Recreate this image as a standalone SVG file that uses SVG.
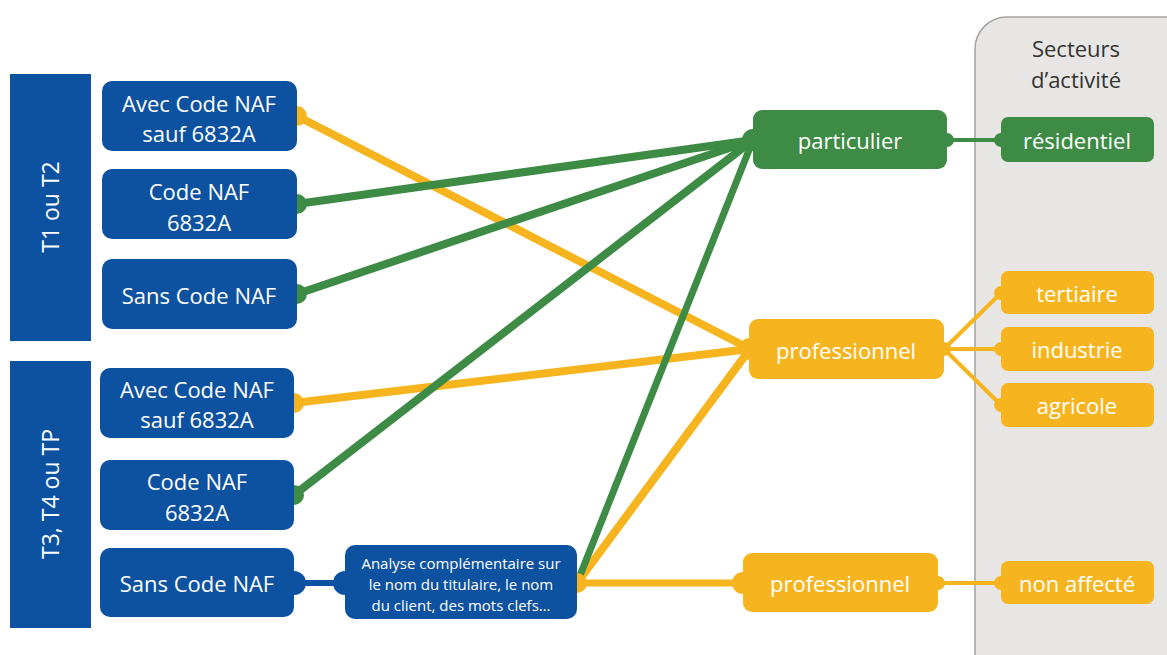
<svg xmlns="http://www.w3.org/2000/svg" width="1167" height="655" viewBox="0 0 1167 655">
<style>
.blue{fill:#0D52A0}
.green{fill:#3E8B46}
.yellow{fill:#F6B51E}
.t{font-family:"Open Sans","Liberation Sans",sans-serif;fill:#fff;text-anchor:middle;dominant-baseline:central}
.big{font-size:22px}
.bar{font-size:23px}
.sm{font-size:15px}
.lg{stroke:#3E8B46;stroke-linecap:round;fill:none}
.ly{stroke:#F6B51E;stroke-linecap:round;fill:none}
.lb{stroke:#0D52A0;fill:none}
</style>
<rect x="0" y="0" width="1167" height="655" fill="#fff"/>
<g id="panel">
<rect x="975" y="17" width="230" height="680" rx="32" fill="#E8E6E5" stroke="#A3A3A3" stroke-width="1.5"/>
<text x="1076" y="48" font-family="'Open Sans','Liberation Sans',sans-serif" font-size="22" fill="#333" text-anchor="middle" dominant-baseline="central">Secteurs</text>
<text x="1076" y="79" font-family="'Open Sans','Liberation Sans',sans-serif" font-size="22" fill="#333" text-anchor="middle" dominant-baseline="central">d’activité</text>
</g>
<g id="connectors">
<line class="ly" x1="297" y1="116" x2="750" y2="349" stroke-width="8"/>
<line class="ly" x1="294" y1="403" x2="750" y2="349" stroke-width="8"/>
<line class="ly" x1="577" y1="583" x2="750" y2="349" stroke-width="8"/>
<line class="ly" x1="577" y1="583" x2="743" y2="583" stroke-width="7"/>
<line class="lg" x1="297" y1="204" x2="753" y2="140" stroke-width="8"/>
<line class="lg" x1="297" y1="294" x2="753" y2="140" stroke-width="8"/>
<line class="lg" x1="294" y1="495" x2="753" y2="140" stroke-width="8"/>
<line class="lg" x1="577" y1="583" x2="753" y2="140" stroke-width="7"/>
<line class="lb" x1="294" y1="583" x2="345" y2="583" stroke-width="6"/>
<line class="lg" x1="947" y1="140" x2="1001" y2="140" stroke-width="4"/>
<line class="ly" x1="944" y1="349" x2="1001" y2="293" stroke-width="4"/>
<line class="ly" x1="944" y1="349" x2="1001" y2="349" stroke-width="4"/>
<line class="ly" x1="944" y1="349" x2="1001" y2="405" stroke-width="4"/>
<line class="ly" x1="938" y1="583" x2="1001" y2="583" stroke-width="4"/>
<circle class="yellow" cx="297" cy="116" r="10"/>
<circle class="green" cx="297" cy="204" r="10"/>
<circle class="green" cx="297" cy="294" r="10"/>
<circle class="yellow" cx="294" cy="403" r="10"/>
<circle class="green" cx="294" cy="495" r="10"/>
<circle class="blue" cx="294" cy="583" r="12"/>
<circle class="blue" cx="345" cy="583" r="12"/>
<circle class="yellow" cx="577" cy="583" r="10"/>
<circle class="green" cx="753" cy="140" r="11"/>
<circle class="green" cx="947" cy="140" r="7"/>
<circle class="yellow" cx="750" cy="349" r="11"/>
<circle class="yellow" cx="944" cy="349" r="7"/>
<circle class="yellow" cx="743" cy="583" r="11"/>
<circle class="yellow" cx="938" cy="583" r="7"/>
<circle class="green" cx="1001" cy="140" r="7"/>
<circle class="yellow" cx="1001" cy="293" r="7"/>
<circle class="yellow" cx="1001" cy="349" r="7"/>
<circle class="yellow" cx="1001" cy="405" r="7"/>
<circle class="yellow" cx="1001" cy="583" r="7"/>
</g>
<g id="bar1"><rect class="blue" x="10" y="74" width="81" height="267"/><text class="t bar" transform="translate(50 207) rotate(-90)">T1 ou T2</text></g>
<g id="bar2"><rect class="blue" x="10" y="361" width="81" height="267"/><text class="t bar" transform="translate(50 494) rotate(-90)">T3, T4 ou TP</text></g>
<g id="n1"><rect class="blue" x="102" y="81" width="195" height="70" rx="10"/><text class="t big" x="199" y="103">Avec Code NAF</text><text class="t big" x="199" y="133">sauf 6832A</text></g>
<g id="n2"><rect class="blue" x="102" y="169" width="195" height="70" rx="10"/><text class="t big" x="199" y="191">Code NAF</text><text class="t big" x="199" y="222">6832A</text></g>
<g id="n3"><rect class="blue" x="102" y="259" width="195" height="70" rx="10"/><text class="t big" x="199" y="295">Sans Code NAF</text></g>
<g id="n4"><rect class="blue" x="100" y="368" width="194" height="70" rx="10"/><text class="t big" x="197" y="389">Avec Code NAF</text><text class="t big" x="197" y="419">sauf 6832A</text></g>
<g id="n5"><rect class="blue" x="100" y="460" width="194" height="70" rx="10"/><text class="t big" x="197" y="481">Code NAF</text><text class="t big" x="197" y="512">6832A</text></g>
<g id="n6"><rect class="blue" x="100" y="548" width="194" height="69" rx="10"/><text class="t big" x="197" y="583">Sans Code NAF</text></g>
<g id="analyse"><rect class="blue" x="345" y="545" width="232" height="74" rx="10"/><text class="t sm" x="461" y="563">Analyse complémentaire sur</text><text class="t sm" x="461" y="584">le nom du titulaire, le nom</text><text class="t sm" x="461" y="605">du client, des mots clefs…</text></g>
<g id="particulier"><rect class="green" x="753" y="110" width="194" height="59" rx="9"/><text class="t big" x="850" y="140">particulier</text></g>
<g id="pro1"><rect class="yellow" x="749" y="319" width="195" height="60" rx="9"/><text class="t big" x="846" y="350">professionnel</text></g>
<g id="pro2"><rect class="yellow" x="743" y="553" width="195" height="59" rx="9"/><text class="t big" x="840" y="583">professionnel</text></g>
<g id="residentiel"><rect class="green" x="1001" y="117" width="153" height="45" rx="7"/><text class="t big" x="1077" y="140">résidentiel</text></g>
<g id="tertiaire"><rect class="yellow" x="1001" y="271" width="153" height="43" rx="7"/><text class="t big" x="1077" y="293">tertiaire</text></g>
<g id="industrie"><rect class="yellow" x="1001" y="327" width="153" height="44" rx="7"/><text class="t big" x="1077" y="349">industrie</text></g>
<g id="agricole"><rect class="yellow" x="1001" y="383" width="153" height="44" rx="7"/><text class="t big" x="1077" y="405">agricole</text></g>
<g id="nonaffecte"><rect class="yellow" x="1001" y="561" width="153" height="43" rx="7"/><text class="t big" x="1077" y="583">non affecté</text></g>
</svg>
